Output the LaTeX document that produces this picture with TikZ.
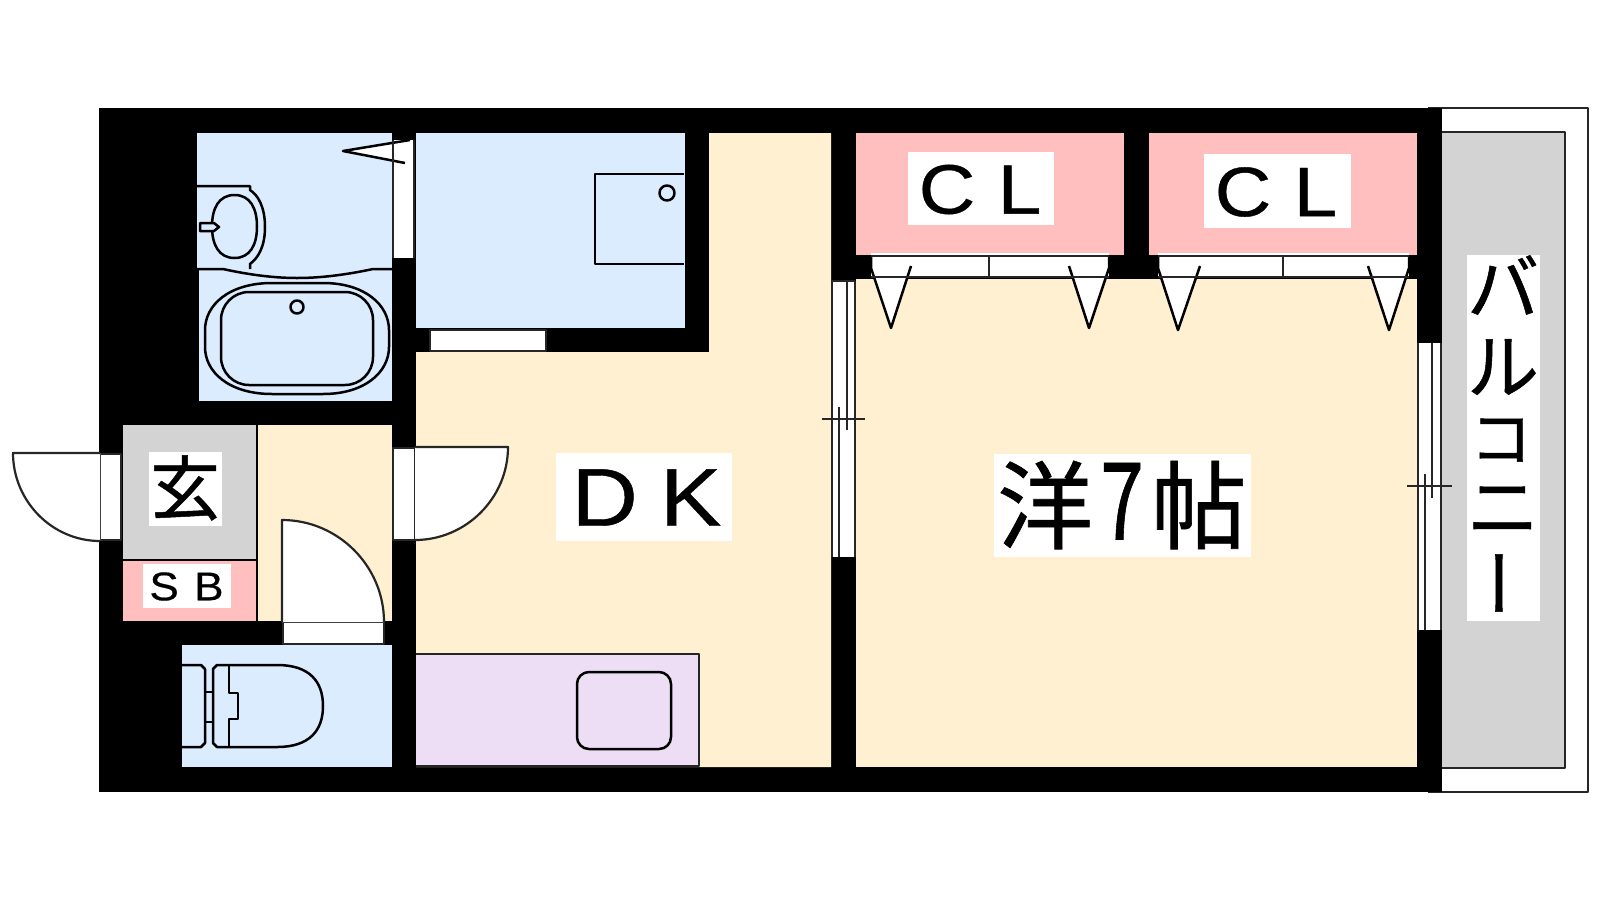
\documentclass[tikz,border=0pt]{standalone}
\usepackage{fontspec}
\setmainfont[FakeBold=0.5]{Liberation Sans}
\newfontfamily\cjk[FakeBold=0.7]{Noto Sans CJK JP}
\definecolor{bluefl}{RGB}{219,236,255}
\definecolor{creamfl}{RGB}{254,240,208}
\definecolor{pinkfl}{RGB}{255,191,191}
\definecolor{grayfl}{RGB}{211,211,211}
\definecolor{lavfl}{RGB}{237,222,246}
\tikzset{
  ln/.style={draw=black,line width=2.5pt,line join=round},
  thinln/.style={draw=black!85,line width=2.2pt,line join=round},
  wf/.style={fill=white,draw=black!85,line width=2.2pt,line join=round},
  lbl/.style={inner sep=0pt,outer sep=0pt,text=black,anchor=center},
}
\newcommand{\fs}[1]{\fontsize{#1}{#1}\selectfont}
\begin{document}
\begin{tikzpicture}[x=1pt,y=-1pt]
\useasboundingbox (0,0) rectangle (1600,900);
\fill[white] (0,0) rectangle (1600,900);
% balcony
\draw[thinln,fill=white] (1428,108) -- (1588,108) -- (1588,792) -- (1428,792);
\draw[thinln,fill=grayfl] (1440,132) -- (1565,132) -- (1565,768) -- (1440,768);
% walls
\fill[black] (99,108) rectangle (1442,792);
% rooms
\fill[bluefl] (197,133) rectangle (392,270);
\fill[bluefl] (199,270) rectangle (392,401);
\fill[bluefl] (416,133) rectangle (685,328);
\fill[bluefl] (182,645) rectangle (392,767);
\fill[creamfl] (709,133) -- (831,133) -- (831,767) -- (416,767) -- (416,352) -- (709,352) -- cycle;
\fill[creamfl] (258,425) rectangle (392,621);
\fill[creamfl] (856,279) rectangle (1417,767);
\fill[pinkfl] (856,133) rectangle (1124,255);
\fill[pinkfl] (1149,133) rectangle (1417,255);
\fill[grayfl] (123,425) rectangle (257,559);
\fill[pinkfl] (123,561) rectangle (257,621);
\draw[ln] (257,425) -- (257,621);
\draw[ln] (123,560) -- (257,560);
% bath fixtures
\draw[ln] (197,186) -- (250,186) -- (250,190) .. controls (258,195) and (265,207) .. (265,227) .. controls (265,247) and (258,258) .. (250,264) -- (250,269);
\draw[ln] (197,269) -- (223,269) .. controls (250,275) and (275,278) .. (297,278) .. controls (320,278) and (345,275) .. (373,269) -- (392,269);
\draw[ln] (234.5,195) .. controls (250,195) and (257,208) .. (257,226.5) .. controls (257,245) and (250,258) .. (234.5,258) .. controls (219,258) and (212,245) .. (212,226.5) .. controls (212,208) and (219,195) .. (234.5,195) -- cycle;
\draw[ln,fill=bluefl] (212,223) -- (200,223) -- (200,231) -- (214,231) -- (219,227) -- (214,223) -- cycle;
\draw[ln] (272,283) -- (323,283) .. controls (365,283) and (389,305) .. (389,330) -- (389,347) .. controls (389,372) and (365,394) .. (323,394) -- (272,394) .. controls (229,394) and (205,372) .. (205,347) -- (205,330) .. controls (205,305) and (229,283) .. (272,283) -- cycle;
\draw[ln,rounded corners=28pt] (221,292) rectangle (373,385);
\draw[ln] (297,307) circle[radius=6.5];
% bath door
\fill[white] (393,140) rectangle (415,258);
\draw[ln,fill=white] (405,163) -- (343,151) -- (410,140);
\draw[thinln] (393,140) -- (393,258);
\draw[thinln] (414,140) -- (414,258);
% washer
\draw[ln] (684,174) -- (595,174) -- (595,264) -- (684,264);
\draw[ln] (667,193) circle[radius=7.5];
% laundry door
\draw[wf] (430,330) rectangle (546,351);
% entry door
\draw[wf] (100,454) rectangle (121,540);
\draw[wf] (100,453) -- (13,453) .. controls (13,501) and (52,541) .. (100,541);
% DK door
\draw[wf] (393,448) rectangle (415,540);
\draw[wf] (415,447) -- (508,447) .. controls (508,498) and (466,540) .. (415,540);
% hall door
\draw[wf] (283,622) rectangle (384,644);
\draw[wf] (282,622) -- (282,520) .. controls (338,520) and (384,566) .. (384,622);
% toilet
\draw[ln] (182,665) -- (201,665) -- (205,669) -- (205,743) -- (201,747) -- (182,747);
\draw[ln] (217,665) -- (213,669) -- (213,743) -- (217,747) -- (277,747) .. controls (310,747) and (323,730) .. (323,706) .. controls (323,682) and (310,665) .. (277,665) -- cycle;
\draw[ln] (205,692) -- (213,692) (205,722) -- (213,722);
\draw[ln] (229,664) -- (229,693) -- (238,693) -- (238,719) -- (229,719) -- (229,747);
% kitchen
\draw[thinln,fill=lavfl] (416,654) -- (699,654) -- (699,766) -- (416,766);
\draw[ln,rounded corners=12pt] (577,672) rectangle (671,749);
% closet doors
\fill[white] (871,253) rectangle (1109,278);
\fill[white] (1158,253) rectangle (1409,278);
\draw[ln,fill=white] (871,256) -- (871,268) -- (891,328) -- (911,266);
\draw[ln,fill=white] (1109,256) -- (1109,268) -- (1089,328) -- (1069,266);
\draw[ln,fill=white] (1158,256) -- (1158,268) -- (1178,330) -- (1200,266);
\draw[ln,fill=white] (1409,256) -- (1409,268) -- (1389,330) -- (1368,266);
\draw[thinln] (871,256) -- (1109,256) (871,277) -- (1109,277) (989,256) -- (989,278);
\draw[thinln] (1158,256) -- (1409,256) (1158,277) -- (1409,277) (1283,256) -- (1283,278);
% window DK-room
\fill[white] (832,281) rectangle (855,557);
\draw[thinln] (832,281) -- (855,281) (832,281) -- (832,557) (855,281) -- (855,557);
\draw[thinln] (839,407) -- (839,557) (847,281) -- (847,430);
\draw[thinln] (822,419) -- (865,419);
% window balcony
\fill[white] (1418,343) rectangle (1441,630);
\draw[thinln] (1418,343) -- (1418,630) (1441,343) -- (1441,630);
\draw[thinln] (1425,474) -- (1425,630) (1432,343) -- (1432,498);
\draw[thinln] (1407,486) -- (1452,486);
% label backgrounds
\fill[white] (149,452) rectangle (222,526);
\fill[white] (143,564) rectangle (231,608);
\fill[white] (908,152) rectangle (1054,225);
\fill[white] (1204,154) rectangle (1351,228);
\fill[white] (556,453) rectangle (732,541);
\fill[white] (994,454) rectangle (1251,557);
\fill[white] (1467,255) rectangle (1540,621);
% labels
\node[lbl] (genkan) at (185,488) {\cjk\fs{70}玄};
\node[lbl] (sb) at (186.5,586.5) {\fs{40}\scalebox{1.1}[1]{S\hspace{14pt}B}};
\node[lbl] (cl1) at (980,189.5) {\fs{70}\scalebox{1.12}[1]{C\hspace{20pt}L}};
\node[lbl] (cl2) at (1276,192) {\fs{70}\scalebox{1.12}[1]{C\hspace{20pt}L}};
\node[lbl] (dk) at (646.5,497.5) {\fs{82}\scalebox{1.12}[1]{D\hspace{20pt}K}};
\node[lbl] (room) at (1122,505) {\cjk\fs{96}洋\hspace{7pt}\raisebox{2pt}{\scalebox{0.82}[1.12]{7}}\hspace{7pt}帖};
\node[lbl] (balc1) at (1503,285) {\cjk\fs{72}バ};
\node[lbl] (balc2) at (1503,367) {\cjk\fs{72}ル};
\node[lbl] (balc3) at (1501,440) {\cjk\fs{62}コ};
\node[lbl] (balc4) at (1503,510) {\cjk\fs{72}ニ};
\node[lbl] (balc5) at (1511,583) {\cjk\fs{72}\rotatebox[origin=c]{90}{ー}};
\end{tikzpicture}
\end{document}
